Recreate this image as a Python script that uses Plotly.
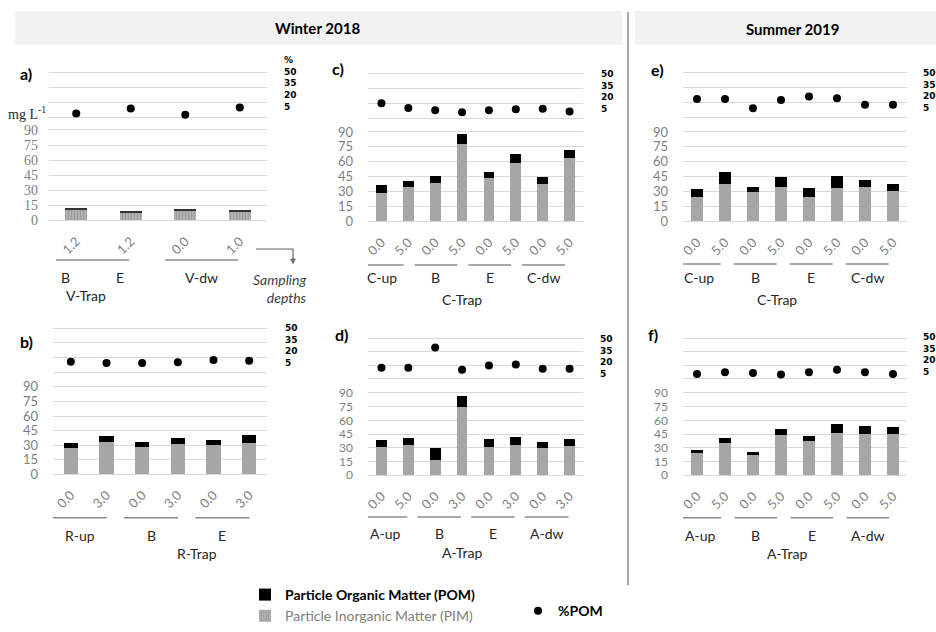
import plotly.graph_objects as go

W, H = 936, 632

# ---------------- data ----------------
# Winter 2018 - V-Trap (panel a)
a_depths = ["1.2", "1.2", "0.0", "1.0"]
a_pim = [10.5, 7.5, 9.9, 8.3]
a_pom = [1.0, 1.2, 0.8, 1.4]
a_pct = [8.7, 13.7, 7.3, 14.7]
a_sites = ["B", "E", "V-dw"]

# Winter 2018 - R-Trap (panel b)
b_depths = ["0.0", "3.0", "0.0", "3.0", "0.0", "3.0"]
b_pim = [27.3, 33.4, 28.3, 30.7, 29.7, 32.4]
b_pom = [5.1, 5.8, 5.1, 6.2, 5.5, 8.2]
b_pct = [15.7, 14.3, 14.3, 15.0, 17.3, 16.7]
b_sites = ["R-up", "B", "E"]

# Winter 2018 - C-Trap (panel c)
c_depths = ["0.0", "5.0", "0.0", "5.0", "0.0", "5.0", "0.0", "5.0"]
c_pim = [28.3, 35.0, 39.0, 77.7, 43.3, 59.0, 37.7, 64.0]
c_pom = [8.4, 6.0, 6.7, 10.0, 6.7, 9.0, 7.0, 8.0]
c_pct = [20.0, 15.1, 12.8, 10.9, 12.8, 13.8, 14.4, 11.5]
c_sites = ["C-up", "B", "E", "C-dw"]

# Winter 2018 - A-Trap (panel d)
d_depths = ["0.0", "5.0", "0.0", "3.0", "0.0", "3.0", "0.0", "3.0"]
d_pim = [31.3, 33.1, 16.9, 74.5, 31.3, 33.1, 29.5, 32.0]
d_pom = [7.2, 7.2, 12.6, 12.5, 8.3, 9.0, 7.2, 7.6]
d_pct = [17.4, 17.4, 39.8, 15.1, 20.0, 21.1, 16.2, 16.2]
d_sites = ["A-up", "B", "E", "A-dw"]

# Summer 2019 - C-Trap (panel e)
e_depths = ["0.0", "5.0", "0.0", "5.0", "0.0", "5.0", "0.0", "5.0"]
e_pim = [24.3, 37.7, 29.3, 34.3, 24.3, 33.3, 35.0, 30.7]
e_pom = [8.4, 11.6, 5.0, 10.7, 9.0, 12.7, 7.0, 7.0]
e_pct = [23.3, 23.3, 14.0, 22.3, 25.7, 24.0, 17.3, 17.3]
e_sites = ["C-up", "B", "E", "C-dw"]

# Summer 2019 - A-Trap (panel f)
f_depths = ["0.0", "5.0", "0.0", "5.0", "0.0", "5.0", "0.0", "5.0"]
f_pim = [24.8, 35.6, 22.3, 44.2, 37.8, 46.4, 45.0, 45.0]
f_pom = [2.9, 5.4, 2.9, 5.8, 5.4, 9.4, 8.6, 7.2]
f_pct = [10.6, 12.5, 11.7, 9.9, 12.5, 15.1, 12.5, 10.6]
f_sites = ["A-up", "B", "E", "A-dw"]

bar_ticks = [0, 15, 30, 45, 60, 75, 90]
pct_ticks = [5, 20, 35, 50]
seasons = ["Winter 2018", "Summer 2019"]

# ---------------- layout helpers ----------------
def fx(px):
    return px / W

def fy(py):
    return 1 - py / H

SANS = "Lato"
SERIF = "Liberation Serif"
GRID = "#d9d9d9"
TICKC = "#7f7f7f"

panels = [
    dict(letter="a)", depths=a_depths, pim=a_pim, pom=a_pom, pct=a_pct,
         labels=[(a_sites[0], 0, 0), (a_sites[1], 1, 1), (a_sites[2], 2, 3)],
         lines=[(0, 1), (2, 3)], trap="V-Trap",
         xpx=(49, 267), y0=222, y90=131, y5=118, y50=73, yfs=14,
         shift=-0.2, half=0.67, tpos=0.18, letter_xy=(26, 74),
         pct_x=282, pct_mid=84, line_y=262, lab_y=280, trap_y=298, serif=True),
    dict(letter="b)", depths=b_depths, pim=b_pim, pom=b_pom, pct=b_pct,
         labels=[(s, 2 * k, 2 * k + 1) for k, s in enumerate(b_sites)],
         lines=[(2 * k, 2 * k + 1) for k in range(3)], trap="R-Trap",
         xpx=(53, 267), y0=478, y90=390, y5=375, y50=331, yfs=13,
         shift=-0.25, half=0.76, tpos=3.53, letter_xy=(26, 344),
         pct_x=283, pct_mid=348, line_y=522, lab_y=540, trap_y=558, serif=False),
    dict(letter="c)", depths=c_depths, pim=c_pim, pom=c_pom, pct=c_pct,
         labels=[(s, 2 * k, 2 * k + 1) for k, s in enumerate(c_sites)],
         lines=[(2 * k, 2 * k + 1) for k in range(4)], trap="C-Trap",
         xpx=(368, 583), y0=223, y90=133, y5=119, y50=74, yfs=13,
         shift=-0.47, half=0.8, tpos=3.0, letter_xy=(338, 69),
         pct_x=599, pct_mid=92, line_y=267, lab_y=280, trap_y=302, serif=False),
    dict(letter="d)", depths=d_depths, pim=d_pim, pom=d_pom, pct=d_pct,
         labels=[(s, 2 * k, 2 * k + 1) for k, s in enumerate(d_sites)],
         lines=[(2 * k, 2 * k + 1) for k in range(4)], trap="A-Trap",
         xpx=(368, 583), y0=479, y90=396, y5=382, y50=341, yfs=12,
         shift=-0.35, half=0.81, tpos=3.0, letter_xy=(341, 337),
         pct_x=598, pct_mid=359, line_y=521, lab_y=538, trap_y=557, serif=False),
    dict(letter="e)", depths=e_depths, pim=e_pim, pom=e_pom, pct=e_pct,
         labels=[(s, 2 * k, 2 * k + 1) for k, s in enumerate(e_sites)],
         lines=[(2 * k, 2 * k + 1) for k in range(4)], trap="C-Trap",
         xpx=(683, 907), y0=223, y90=133, y5=118, y50=73, yfs=13,
         shift=-0.42, half=0.77, tpos=2.86, letter_xy=(657, 70),
         pct_x=921, pct_mid=91, line_y=266, lab_y=280, trap_y=302, serif=False),
    dict(letter="f)", depths=f_depths, pim=f_pim, pom=f_pom, pct=f_pct,
         labels=[(s, 2 * k, 2 * k + 1) for k, s in enumerate(f_sites)],
         lines=[(2 * k, 2 * k + 1) for k in range(4)], trap="A-Trap",
         xpx=(683, 907), y0=479, y90=396, y5=382, y50=341, yfs=12,
         shift=-0.4, half=0.76, tpos=3.2, letter_xy=(653, 337),
         pct_x=921, pct_mid=357, line_y=522, lab_y=540, trap_y=558, serif=False),
]

fig = go.Figure()
layout = dict(
    width=W, height=H, margin=dict(l=0, r=0, t=0, b=0),
    paper_bgcolor="white", plot_bgcolor="rgba(0,0,0,0)",
    barmode="stack", bargap=0.6, font=dict(family=SANS, color="#262626"),
)
shapes = []
annotations = []

for i, p in enumerate(panels, start=1):
    n = len(p["depths"])
    xs = list(range(n))
    xa, yb, yp = f"x{i}", f"y{2 * i - 1}", f"y{2 * i}"
    is_a = p["serif"]

    pim_marker = dict(color="#a6a6a6", line=dict(width=0))
    if is_a:
        pim_marker["pattern"] = dict(shape="|", fgcolor="#8a8a8a", bgcolor="#b0b0b0", size=3, solidity=0.35)
    fig.add_trace(go.Bar(
        x=xs, y=p["pim"], xaxis=xa, yaxis=yb, marker=pim_marker,
        name="<span style='color:#808080'>Particle Inorganic Matter (PIM)</span>",
        showlegend=(i == 1), legendrank=2, legend="legend",
    ))
    fig.add_trace(go.Bar(
        x=xs, y=p["pom"], xaxis=xa, yaxis=yb,
        marker=dict(color="#333333" if is_a else "black", line=dict(width=0)),
        name="<b>Particle Organic Matter (POM)</b>",
        showlegend=(i == 2), legendrank=1, legend="legend",
    ))
    fig.add_trace(go.Scatter(
        x=xs, y=p["pct"], xaxis=xa, yaxis=yp, mode="markers",
        marker=dict(color="black", size=8),
        name="<b>%POM</b>", showlegend=(i == 1), legend="legend2",
    ))

    # axes
    ppu = (p["y0"] - p["y90"]) / 90.0
    bdom = [fy(p["y0"] + 2 * ppu), fy(p["y90"] - 2 * ppu)]
    pp = (p["y5"] - p["y50"]) / 45.0
    pdom = [fy(p["y5"] + 2 * pp), fy(p["y50"] - 2 * pp)]
    suffix = "" if i == 1 else str(i)
    layout["xaxis" + suffix] = dict(
        domain=[fx(p["xpx"][0]), fx(p["xpx"][1])], range=[-0.5, n - 0.5],
        anchor=yb, tickmode="array", tickvals=xs, ticktext=p["depths"], tickangle=-45,
        tickfont=dict(family=SANS, size=13, color=TICKC), showgrid=False, zeroline=False,
        showline=False, ticks="", ticklabelstandoff=8, fixedrange=True, automargin=False,
    )
    layout[f"yaxis{2 * i - 1}" if i > 1 else "yaxis"] = dict(
        domain=bdom, range=[-2, 92], anchor=xa, tickmode="array", tickvals=bar_ticks,
        tickfont=dict(family=SERIF if is_a else SANS, size=p["yfs"], color=TICKC),
        showgrid=True, gridcolor=GRID, gridwidth=1, zeroline=False, showline=False,
        ticks="", ticklabelstandoff=(10 if is_a else 14), fixedrange=True, automargin=False,
    )
    layout[f"yaxis{2 * i}"] = dict(
        domain=pdom, range=[3, 52], anchor=xa, tickmode="array", tickvals=pct_ticks,
        showticklabels=False, showgrid=True, gridcolor=GRID, gridwidth=1,
        zeroline=False, showline=False, ticks="", fixedrange=True, automargin=False,
    )

    # panel letter
    annotations.append(dict(
        x=fx(p["letter_xy"][0]), y=fy(p["letter_xy"][1]), xref="paper", yref="paper",
        text="<b>%s</b>" % p["letter"], showarrow=False, xanchor="center", yanchor="middle",
        font=dict(family=SANS, size=16, color="black"),
    ))
    # compressed % scale labels (one stacked block per panel)
    rows = ["%d" % v for v in reversed(pct_ticks)]
    if is_a:
        rows = ["%"] + rows
    annotations.append(dict(
        x=fx(p["pct_x"]), y=fy(p["pct_mid"]), xref="paper", yref="paper",
        text="<b>" + "<br>".join(rows) + "</b>", align="left",
        showarrow=False, xanchor="left", yanchor="middle",
        font=dict(family="DejaVu Sans", size=9, color="black"),
    ))
    # group lines
    for (g0, g1) in p["lines"]:
        c = (g0 + g1) / 2.0 + p["shift"]
        shapes.append(dict(
            type="line", xref=xa, yref="paper", x0=c - p["half"], x1=c + p["half"],
            y0=fy(p["line_y"]), y1=fy(p["line_y"]), line=dict(color="#8c8c8c", width=1.5),
        ))
    for (name, g0, g1) in p["labels"]:
        c = (g0 + g1) / 2.0 + p["shift"]
        annotations.append(dict(
            x=c, y=fy(p["lab_y"]), xref=xa, yref="paper", text=name, showarrow=False,
            xanchor="center", yanchor="middle", font=dict(family=SANS, size=14, color="#262626"),
        ))
    annotations.append(dict(
        x=p["tpos"], y=fy(p["trap_y"]), xref=xa, yref="paper", text=p["trap"], showarrow=False,
        xanchor="center", yanchor="middle", font=dict(family=SANS, size=14, color="#262626"),
    ))

# panel a extras
annotations.append(dict(x=fx(6), y=fy(114), xref="paper", yref="paper", text="mg L<sup>-1</sup>",
                        showarrow=False, xanchor="left", yanchor="middle",
                        font=dict(family=SERIF, size=14, color="#262626")))
annotations.append(dict(x=fx(309), y=fy(291), xref="paper", yref="paper",
                        text="<i>Sampling</i><br><i>depths</i>", align="right",
                        showarrow=False, xanchor="right", yanchor="middle",
                        font=dict(family=SANS, size=14, color="#404040")))
shapes.append(dict(type="path", xref="paper", yref="paper",
                   path=f"M {fx(256)},{fy(251)} L {fx(293)},{fy(251)} L {fx(293)},{fy(262)}",
                   line=dict(color="#666666", width=1.2)))
shapes.append(dict(type="path", xref="paper", yref="paper",
                   path=f"M {fx(290.5)},{fy(261)} L {fx(295.5)},{fy(261)} L {fx(293)},{fy(266)} Z",
                   fillcolor="#666666", line=dict(color="#666666", width=0.5)))

# season header bands
shapes.append(dict(type="rect", xref="paper", yref="paper", x0=fx(15), x1=fx(622), y0=fy(45), y1=fy(11),
                   fillcolor="#f2f2f2", line=dict(width=0), layer="below"))
shapes.append(dict(type="rect", xref="paper", yref="paper", x0=fx(635), x1=fx(936), y0=fy(45), y1=fy(11),
                   fillcolor="#f2f2f2", line=dict(width=0), layer="below"))
shapes.append(dict(type="line", xref="paper", yref="paper", x0=fx(628), x1=fx(628), y0=fy(12), y1=fy(590),
                   line=dict(color="#8c8c8c", width=1.5)))
annotations.append(dict(x=fx(317), y=fy(28), xref="paper", yref="paper", text="<b>%s</b>" % seasons[0],
                        showarrow=False, xanchor="center", yanchor="middle",
                        font=dict(family=SANS, size=15, color="black")))
annotations.append(dict(x=fx(792), y=fy(29), xref="paper", yref="paper", text="<b>%s</b>" % seasons[1],
                        showarrow=False, xanchor="center", yanchor="middle",
                        font=dict(family=SANS, size=15, color="black")))

layout["shapes"] = shapes
layout["annotations"] = annotations
layout["legend"] = dict(x=fx(245), y=fy(584), xanchor="left", yanchor="top", orientation="v",
                        bgcolor="rgba(0,0,0,0)", font=dict(family=SANS, size=14, color="black"),
                        traceorder="normal", tracegroupgap=0)
layout["legend2"] = dict(x=fx(518), y=fy(600), xanchor="left", yanchor="top", orientation="v",
                         bgcolor="rgba(0,0,0,0)", font=dict(family=SANS, size=14, color="black"))
fig.update_layout(**layout)

fig.write_html("out.html")
